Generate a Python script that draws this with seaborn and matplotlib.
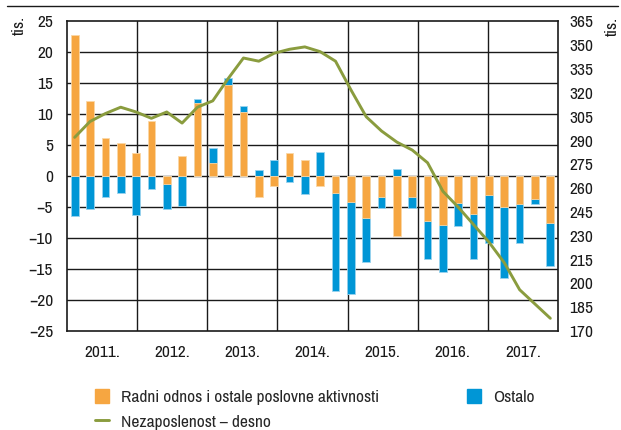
import matplotlib
matplotlib.use("Agg")
import matplotlib.pyplot as plt
import numpy as np
import pandas as pd
import seaborn as sns
from matplotlib.lines import Line2D
from matplotlib.patches import Patch

# quarterly changes, tis.
period = list(range(32))
radni_odnos = [22.8, 12.1, 6.1, 5.4, 3.8, 9.0, -1.3, 3.2,
               11.9, 2.1, 14.7, 10.3, -3.4, -1.5, 3.8, 2.7,
               -1.5, -2.7, -4.1, -6.8, -3.3, -9.7, -3.4, -7.3,
               -7.8, -4.4, -6.1, -3.0, -4.9, -4.5, -3.7, -7.6]
ostalo = [-6.5, -5.3, -3.3, -2.7, -6.2, -2.0, -4.0, -4.8,
          0.5, 2.4, 1.2, 1.1, 1.0, 2.7, -0.9, -2.9,
          3.9, -15.8, -14.9, -7.1, -1.8, 1.2, -1.8, -6.1,
          -7.6, -3.7, -7.2, -7.8, -11.6, -6.3, -0.8, -6.9]
nezaposlenost = [292, 302, 307, 311, 308, 304, 308, 301,
                 311, 315, 329, 342, 340, 345, 347.5, 349,
                 346, 340, 322, 305, 296, 289, 284, 276,
                 258, 248, 237, 226, 213, 196, 187, 178]
years = ["2011.", "2012.", "2013.", "2014.", "2015.", "2016.", "2017."]
left_ticks = list(range(-25, 30, 5))
right_ticks = list(range(170, 380, 15))

ORANGE = "#F6A641"
BLUE = "#0096D6"
GREEN = "#8A9C3E"
GRID = "#1a1a1a"

df = pd.DataFrame({"period": period, "radni": radni_odnos,
                   "ostalo": ostalo, "nez": nezaposlenost})
# blue stacks on top of orange when both have the same sign
same = np.sign(df["radni"]) == np.sign(df["ostalo"])
df["ostalo_end"] = np.where(same, df["radni"] + df["ostalo"], df["ostalo"])

sns.set_theme(style="white")
plt.rcParams["font.family"] = ["Archivo Narrow", "Liberation Sans", "DejaVu Sans"]
plt.rcParams["axes.unicode_minus"] = True

fig = plt.figure(figsize=(6.21, 4.30), dpi=100)
ax = fig.add_axes([67 / 621, 1 - 331 / 430, 491 / 621, 309.5 / 430])

sns.barplot(data=df, x="period", y="ostalo_end", native_scale=True, width=0.5,
            color=BLUE, saturation=1, errorbar=None, edgecolor="#9ad3ee",
            linewidth=0.6, ax=ax)
sns.barplot(data=df, x="period", y="radni", native_scale=True, width=0.5,
            color=ORANGE, saturation=1, errorbar=None, edgecolor="#fbd7a6",
            linewidth=0.6, ax=ax)

ax.set_xlim(-0.5, 31.5)
ax.set_ylim(-25, 25)
ax.set_yticks(left_ticks)
ax.set_yticklabels([str(t).replace("-", "\u2212") for t in left_ticks])
col = 32 / 7
ax.set_xticks([-0.5 + (i + 0.5) * col for i in range(7)])
ax.set_xticklabels(years)
ax.set_xlabel("")
ax.set_ylabel("")
ax.grid(False)
for t in left_ticks[1:-1]:
    ax.axhline(t, color=GRID, lw=1.0, zorder=0.5)
for i in range(1, 7):
    ax.axvline(-0.5 + i * col, color=GRID, lw=1.0, zorder=0.5)
ax.tick_params(axis="x", length=0, pad=10, labelsize=12.5, colors="#1a1a1a")
ax.tick_params(axis="y", length=0, pad=10, labelsize=12.5, colors="#1a1a1a")
for s in ax.spines.values():
    s.set_color(GRID)
    s.set_linewidth(1.2)

ax2 = ax.twinx()
sns.lineplot(data=df, x="period", y="nez", color=GREEN, lw=2.1, ax=ax2)
ax2.set_ylim(170, 365)
ax2.set_yticks(right_ticks)
ax2.set_ylabel("")
ax2.grid(False)
ax2.tick_params(axis="y", length=0, pad=8, labelsize=12.5, colors="#1a1a1a")
for s in ax2.spines.values():
    s.set_visible(False)

fig.text(19 / 621, 1 - 25 / 430, "tis.", rotation=90, ha="center", va="center",
         fontsize=12.5, color="#1a1a1a")
fig.text(612 / 621, 1 - 26 / 430, "tis.", rotation=90, ha="center", va="center",
         fontsize=12.5, color="#1a1a1a")
fig.add_artist(Line2D([7 / 621, 618 / 621], [1 - 6 / 430, 1 - 6 / 430],
                      color="#1a1a1a", lw=1.0))

leg_kw = dict(loc="upper left", frameon=False, fontsize=12.5, borderpad=0,
              borderaxespad=0, handlelength=0.8, handleheight=0.85,
              handletextpad=0.7, labelspacing=0.5)
fig.legend([Patch(color=ORANGE), Line2D([], [], color=GREEN, lw=2.1)],
           ["Radni odnos i ostale poslovne aktivnosti", "Nezaposlenost \u2013 desno"],
           bbox_to_anchor=(95 / 621, 1 - 389 / 430), **leg_kw)
fig.legend([Patch(color=BLUE)], ["Ostalo"],
           bbox_to_anchor=(467 / 621, 1 - 389 / 430), **leg_kw)

fig.savefig("out.png", dpi=100)
